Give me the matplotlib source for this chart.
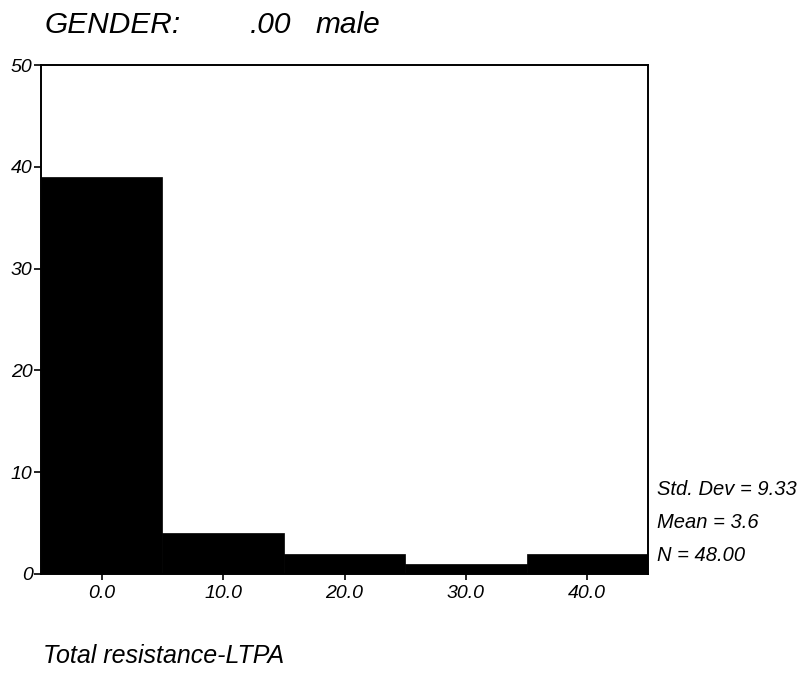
import matplotlib.pyplot as plt

# histogram of Total resistance-LTPA, males only
bin_centers = [0.0, 10.0, 20.0, 30.0, 40.0]
counts = [39, 4, 2, 1, 2]
x_tick_labels = ["0.0", "10.0", "20.0", "30.0", "40.0"]
y_ticks = [0, 10, 20, 30, 40, 50]
stats_lines = ["Std. Dev = 9.33", "Mean = 3.6", "N = 48.00"]

plt.rcParams['font.family'] = ['Liberation Sans', 'DejaVu Sans']
plt.rcParams['font.style'] = 'italic'

W, H = 803, 673
fig = plt.figure(figsize=(W / 100, H / 100), dpi=100)
ax = fig.add_axes([41 / W, 1 - 574 / H, 607 / W, 509 / H])

ax.bar(bin_centers, counts, width=10, color='black', edgecolor='black',
       linewidth=0.5, align='center')

ax.set_xlim(-5, 45)
ax.set_ylim(0, 50)
ax.set_xticks(bin_centers)
ax.set_xticklabels(x_tick_labels, fontsize=14, style='italic')
ax.set_yticks(y_ticks)
ax.set_yticklabels([str(v) for v in y_ticks], fontsize=14, style='italic')
ax.tick_params(axis='x', length=4, width=1.2, pad=4)
ax.tick_params(axis='y', length=5, width=1.2, pad=1)
for side in ['left', 'right', 'top', 'bottom']:
    ax.spines[side].set_linewidth(1.4)

# title pieces
for x, s in [(45, "GENDER:"), (250, ".00"), (316, "male")]:
    fig.text(x / W, 1 - 33 / H, s, fontsize=21.5, style='italic', va='baseline')

# summary statistics beside the plot
for i, line in enumerate(stats_lines):
    fig.text(657 / W, 1 - (495 + 33 * i) / H, line, fontsize=14.5,
             style='italic', va='baseline')

fig.text(43 / W, 1 - 663 / H, "Total resistance-LTPA", fontsize=18,
         style='italic', va='baseline')

plt.savefig("out.png", dpi=100)
